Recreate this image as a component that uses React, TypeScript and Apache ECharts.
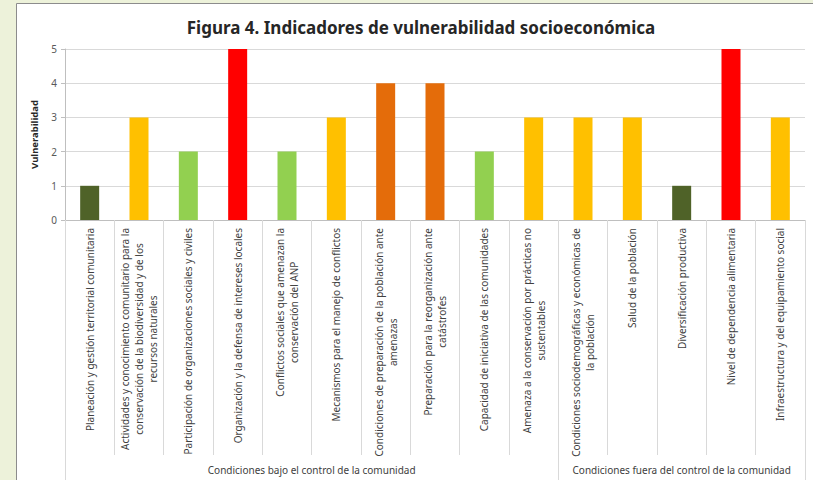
import React, { useEffect, useRef } from "react";
import * as echarts from "echarts";

const categories = [
  "Planeación y gestión territorial comunitaria",
  "Actividades y conocimiento comunitario para la\nconservación de la biodiversidad y de los\nrecursos naturales",
  "Participación de organizaciones sociales y civiles",
  "Organización y la defensa de intereses locales",
  "Conflictos sociales que amenazan la\nconservación del ANP",
  "Mecanismos para el manejo de conflictos",
  "Condiciones de preparación de la población ante\namenazas",
  "Preparación para la reorganización ante\ncatástrofes",
  "Capacidad de iniciativa de las comunidades",
  "Amenaza a la conservación por prácticas no\nsustentables",
  "Condiciones sociodemográficas y económicas de\nla población",
  "Salud de la población",
  "Diversificación productiva",
  "Nivel de dependencia alimentaria",
  "Infraestructura y del equipamiento social",
];
const values = [1, 3, 2, 5, 2, 3, 4, 4, 2, 3, 3, 3, 1, 5, 3];
const levelColors = ["#4f6228", "#92d050", "#ffc000", "#e46c0a", "#ff0000"];
const groupNames = [
  "Condiciones bajo el control de la comunidad",
  "Condiciones fuera del control de la comunidad",
];
const groupBounds = [0, 10, 15];
const yMin = 0;
const yMax = 5;

const FONT = "'Noto Sans', sans-serif";

export default function App() {
  const ref = useRef<HTMLDivElement>(null);
  useEffect(() => {
    const chart = echarts.init(ref.current!, null, { renderer: "svg" });
    const groupMids = groupNames.map((_, i) => (groupBounds[i] + groupBounds[i + 1]) / 2);
    chart.setOption({
      animation: false,
      backgroundColor: "#edf2da",
      textStyle: { fontFamily: FONT },
      graphic: [
        {
          type: "rect",
          z: -10,
          shape: { x: 16.5, y: 3.5, width: 820, height: 500 },
          style: { fill: "#ffffff", stroke: "#8c8c8c", lineWidth: 1 },
        },
      ],
      title: {
        text: "Figura 4. Indicadores de vulnerabilidad socioeconómica",
        left: 416,
        top: 14,
        textAlign: "center",
        textStyle: { fontFamily: FONT, fontSize: 17, fontWeight: "bold", color: "#262626" },
      },
      grid: { left: 65, right: 8, top: 49, bottom: 260, outerBoundsMode: "none" },
      xAxis: [
        {
          type: "category",
          data: categories,
          boundaryGap: true,
          axisLine: { lineStyle: { color: "#bfbfbf" } },
          axisTick: { show: true, alignWithLabel: false, length: 235, lineStyle: { color: "#d9d9d9" } },
          axisLabel: {
            interval: 0,
            rotate: 90,
            margin: 8,
            formatter: (v: string) => v.split("\n").map((l) => `{c|${l}}`).join("\n"),
            rich: {
              c: { align: "center", fontSize: 10, lineHeight: 14, color: "#404040", fontFamily: FONT },
            },
          },
        },
        {
          type: "value",
          min: groupBounds[0],
          max: groupBounds[groupBounds.length - 1],
          position: "bottom",
          axisLine: { show: false },
          splitLine: { show: false },
          axisTick: {
            show: true,
            customValues: groupBounds,
            length: 262,
            lineStyle: { color: "#d9d9d9" },
          },
          axisLabel: {
            customValues: groupMids,
            margin: 245,
            fontSize: 10,
            color: "#404040",
            fontFamily: FONT,
            formatter: (v: number) => groupNames[groupMids.indexOf(v)] ?? "",
          },
        },
      ],
      yAxis: {
        type: "value",
        min: yMin,
        max: yMax,
        interval: 1,
        name: "Vulnerabilidad",
        nameLocation: "middle",
        nameGap: 26,
        nameTextStyle: { fontFamily: FONT, fontSize: 9.5, fontWeight: "bold", color: "#262626" },
        axisLine: { show: true, lineStyle: { color: "#bfbfbf" } },
        axisTick: { show: true, length: 4, lineStyle: { color: "#bfbfbf" } },
        splitLine: { lineStyle: { color: "#d9d9d9" } },
        axisLabel: { fontSize: 10, color: "#595959", margin: 8, fontFamily: FONT },
      },
      series: [
        {
          type: "bar",
          xAxisIndex: 0,
          barWidth: 19,
          data: values.map((v) => ({ value: v, itemStyle: { color: levelColors[v - 1] } })),
        },
      ],
    });
    return () => chart.dispose();
  }, []);
  return (
    <div
      ref={ref}
      style={{ position: "absolute", left: 0, top: 0, width: 813, height: 480 }}
    />
  );
}
